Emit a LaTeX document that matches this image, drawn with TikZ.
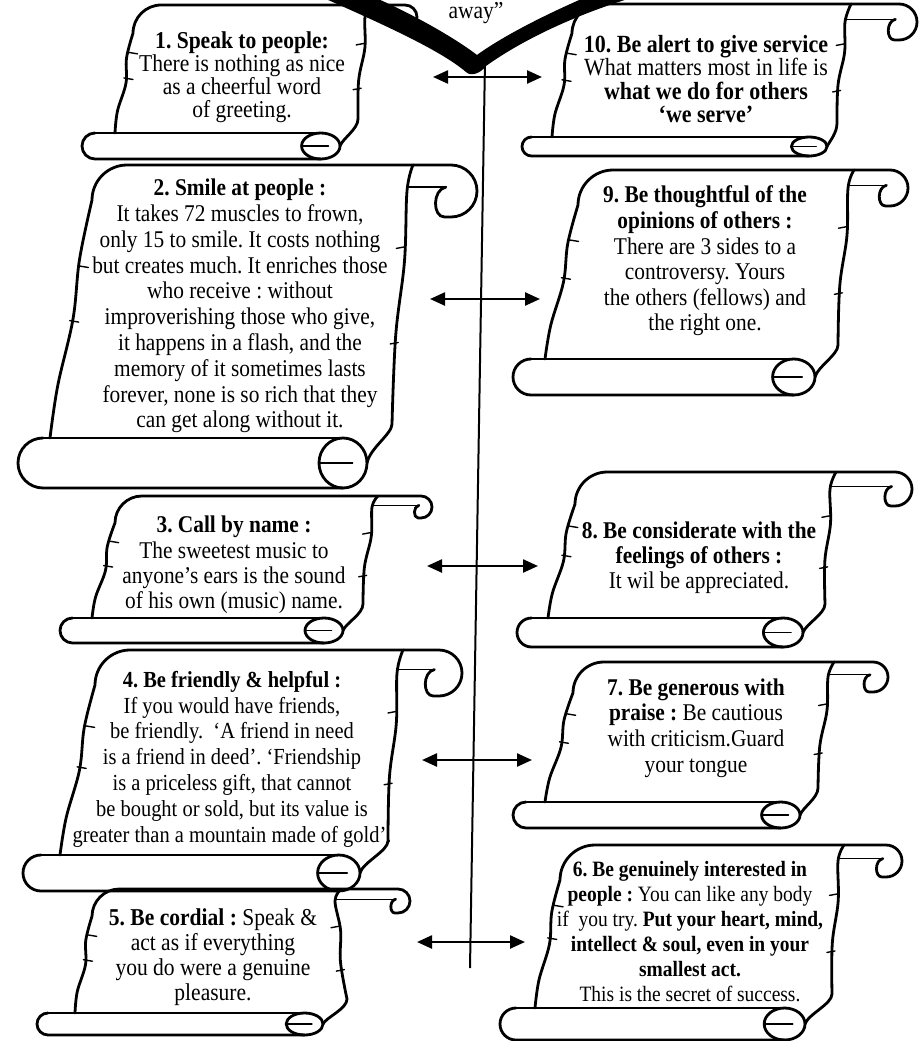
\documentclass[tikz,border=0pt]{standalone}
\usepackage{fontspec}
\setmainfont{Liberation Serif}[FakeStretch=0.89]
\usetikzlibrary{arrows.meta}
\tikzset{
 sc/.style={line width=2.8pt, line join=round, line cap=round},
 scthin/.style={line width=1.4pt, line cap=round},
 txt/.style={align=center, inner sep=0pt},
 arr/.style={line width=2.4pt, {Triangle[length=15pt,width=13pt]}-{Triangle[length=15pt,width=13pt]}},
 vline/.style={line width=2pt},
}
\newcommand\scrollBottom[2]{\def\zzBL{#1}\def\zzER{#2}}
\newcommand\myscroll[9]{%
\pgfmathsetmacro\zzLa{#1}%
\pgfmathsetmacro\zzLb{#2}%
\pgfmathsetmacro\zzRa{#3}%
\pgfmathsetmacro\zzRb{#4}%
\pgfmathsetmacro\zzT{#5}%
\pgfmathsetmacro\zzh{#6}%
\pgfmathsetmacro\zzC{#7}%
\pgfmathsetmacro\zzB{#8}%
\pgfmathsetmacro\zzBb{#9}%
\pgfmathsetmacro\zzr{\zzh/2}%
\pgfmathsetmacro\zzTm{\zzT+\zzr}%
\pgfmathsetmacro\zzTb{\zzT+\zzh}%
\pgfmathsetmacro\zzry{(\zzBb-\zzB)/2}%
\pgfmathsetmacro\zzBm{\zzB+\zzry}%
\pgfmathsetmacro\zzrx{0.4*\zzry+14}%
\pgfmathsetmacro\zzE{\zzER-\zzrx}%
\pgfmathsetmacro\zzk{min(35,0.22*(\zzB-\zzT))}%
\pgfmathsetmacro\zzYa{\zzT+\zzk}%
\pgfmathsetmacro\zzD{\zzB-\zzYa}%
\pgfmathsetmacro\zzlxa{\zzLa+0.25*(\zzLb-\zzLa)-2}%
\pgfmathsetmacro\zzlya{\zzYa+0.25*\zzD}%
\pgfmathsetmacro\zzlxb{\zzLa+0.5*(\zzLb-\zzLa)+2}%
\pgfmathsetmacro\zzlyb{\zzYa+0.5*\zzD}%
\pgfmathsetmacro\zzlxc{\zzLa+0.78*(\zzLb-\zzLa)-1.5}%
\pgfmathsetmacro\zzlyc{\zzYa+0.78*\zzD}%
\pgfmathsetmacro\zzcy{\zzYa-0.55*\zzk}%
\pgfmathsetmacro\zzcx{\zzLa+0.45*\zzk}%
\pgfmathsetmacro\zzce{\zzLa+\zzk}%
\pgfmathsetmacro\zzeA{\zzC-\zzr}%
\pgfmathsetmacro\zzeB{\zzC-0.448*\zzr}%
\pgfmathsetmacro\zzeU{\zzTm-0.552*\zzr}%
\pgfmathsetmacro\zzeD{\zzTm+0.552*\zzr}%
\pgfmathsetmacro\zzpA{\zzC-1.25*\zzr}%
\pgfmathsetmacro\zzpB{\zzC-1.72*\zzr}%
\pgfmathsetmacro\zzpC{\zzC-1.2*\zzr}%
\pgfmathsetmacro\zzpY{\zzTm-0.15*\zzr}%
\pgfmathsetmacro\zzpYc{\zzTm-0.05*\zzr}%
\draw[sc] plot[smooth,tension=0.6] coordinates {(\zzLb,\zzB) (\zzlxc,\zzlyc) (\zzlxb,\zzlyb) (\zzlxa,\zzlya) (\zzLa,\zzYa)}
 .. controls (\zzLa,\zzcy) and (\zzcx,\zzT) .. (\zzce,\zzT) -- (\zzeA,\zzT)
 .. controls (\zzeB,\zzT) and (\zzC,\zzeU) .. (\zzC,\zzTm)
 .. controls (\zzC,\zzeD) and (\zzeB,\zzTb) .. (\zzeA,\zzTb) -- (\zzpA,\zzTb)
 .. controls (\zzpB,\zzTb) and (\zzpB,\zzpYc) .. (\zzpC,\zzpY);
\draw[scthin] (\zzRa,\zzpY) -- (\zzpC,\zzpY);
\pgfmathsetmacro\zzrxa{\zzRa+6}%
\pgfmathsetmacro\zzrye{\zzB-14}%
\pgfmathsetmacro\zzrD{\zzrye-\zzTm}%
\pgfmathsetmacro\zzrxb{\zzRa+0.3*(\zzRb-\zzRa)+2}%
\pgfmathsetmacro\zzryb{\zzTm+0.3*\zzrD}%
\pgfmathsetmacro\zzrxc{\zzRa+0.62*(\zzRb-\zzRa)-2}%
\pgfmathsetmacro\zzryc{\zzTm+0.62*\zzrD}%
\pgfmathsetmacro\zzryf{\zzB-4}%
\pgfmathsetmacro\zzryg{\zzBm-0.6*\zzry}%
\pgfmathsetmacro\zzrxg{\zzER+3}%
\draw[sc] plot[smooth,tension=0.6] coordinates {(\zzrxa,\zzT) (\zzRa,\zzTm) (\zzrxb,\zzryb) (\zzrxc,\zzryc) (\zzRb,\zzrye)}
 .. controls (\zzRb,\zzryf) and (\zzrxg,\zzryg) .. (\zzER,\zzBm);
\pgfmathsetmacro\zzbL{\zzBL+\zzry}%
\pgfmathsetmacro\zzbLc{\zzBL+0.448*\zzry}%
\pgfmathsetmacro\zzbU{\zzBm-0.552*\zzry}%
\pgfmathsetmacro\zzbD{\zzBm+0.552*\zzry}%
\draw[scthin] (\zzE,\zzB) -- (\zzbL,\zzB);
\draw[sc] (\zzbL,\zzB) .. controls (\zzbLc,\zzB) and (\zzBL,\zzbU) .. (\zzBL,\zzBm)
 .. controls (\zzBL,\zzbD) and (\zzbLc,\zzBb) .. (\zzbL,\zzBb) -- (\zzE,\zzBb);
\draw[sc] (\zzE,\zzBm) ellipse [x radius=\zzrx pt, y radius=\zzry pt];
\pgfmathsetmacro\zzil{\zzE-\zzrx}%
\pgfmathsetmacro\zzir{\zzE+0.4*\zzrx}%
\draw[scthin] (\zzil,\zzBm) -- (\zzir,\zzBm);
\pgfmathsetmacro\zztya{\zzT+0.37*(\zzB-\zzT)}%
\pgfmathsetmacro\zztxa{\zzLa+(\zztya-\zzYa)/\zzD*(\zzLb-\zzLa)-1}%
\pgfmathsetmacro\zztyb{\zzT+0.57*(\zzB-\zzT)}%
\pgfmathsetmacro\zztxb{\zzLa+(\zztyb-\zzYa)/\zzD*(\zzLb-\zzLa)-1}%
\pgfmathsetmacro\zztyc{\zzT+0.3*(\zzB-\zzT)}%
\pgfmathsetmacro\zztxc{\zzRa+(\zztyc-\zzTm)/\zzrD*(\zzRb-\zzRa)+1}%
\pgfmathsetmacro\zztyd{\zzT+0.65*(\zzB-\zzT)}%
\pgfmathsetmacro\zztxd{\zzRa+(\zztyd-\zzTm)/\zzrD*(\zzRb-\zzRa)+1}%
\draw[scthin] (\zztxa,\zztya) -- ++(9,1.5);
\draw[scthin] (\zztxb,\zztyb) -- ++(9,1.5);
\draw[scthin] (\zztxc,\zztyc) -- ++(-8,1.5);
\draw[scthin] (\zztxd,\zztyd) -- ++(-8,1.5);
}
\begin{document}
\frenchspacing
\begin{tikzpicture}[x=1pt,y=-1pt]
\fill[white] (0,0) rectangle (921,1041);
\useasboundingbox (0,0) rectangle (921,1041);
\clip (0,0) rectangle (921,1041);
% scrolls
\scrollBottom{82}{340}\myscroll{133}{115}{365}{358}{5}{24}{417}{133}{159}
\scrollBottom{18}{367}\myscroll{92}{50}{407}{392}{165}{52}{477}{438}{488}
\scrollBottom{60}{343}\myscroll{115}{92}{372}{363}{496}{22}{432}{618}{643}
\scrollBottom{23}{360}\myscroll{95}{60}{397}{388}{650}{46}{462}{855}{891}
\scrollBottom{37}{323}\myscroll{92}{75}{335}{347}{889}{24}{410}{1013}{1035}
\scrollBottom{522}{827}\myscroll{572}{552}{845}{837}{4}{36}{917}{137}{156}
\scrollBottom{513}{815}\myscroll{578}{545}{848}{838}{170}{36}{908}{359}{395}
\scrollBottom{517}{803}\myscroll{575}{548}{830}{825}{472}{34}{912}{618}{647}
\scrollBottom{513}{800}\myscroll{573}{545}{828}{818}{662}{30}{888}{802}{828}
\scrollBottom{500}{805}\myscroll{560}{535}{838}{832}{845}{32}{902}{1008}{1040}
% texts
\node[txt, font=\fontsize{24.2}{23}\selectfont] (s1) at (242,77)
 {\textbf{1. Speak to people:}\\ There is nothing as nice\\ as a cheerful word\\ of greeting.};
\node[txt, font=\fontsize{24}{25.8}\selectfont] (s2) at (240,306)
 {\textbf{2. Smile at people :}\\ It takes 72 muscles to frown,\\ only 15 to smile. It costs nothing\\ but creates much. It enriches those\\ who receive : without\\ improverishing those who give,\\ it happens in a flash, and the\\ memory of it sometimes lasts\\ forever, none is so rich that they\\ can get along without it.};
\node[txt, font=\fontsize{24}{25.3}\selectfont] (s3) at (234,565)
 {\textbf{3. Call by name :}\\ The sweetest music to\\ anyone’s ears is the sound\\ of his own (music) name.};
\node[txt, font=\fontsize{23}{25.8}\selectfont] (s4) at (232,759)
 {\textbf{4. Be friendly \& helpful :}\\ If you would have friends,\\ be friendly.\ \ ‘A friend in need\\ is a friend in deed’. ‘Friendship\\ is a priceless gift, that cannot\\ be bought or sold, but its value is\\ greater than a mountain made of gold’.};
\node[txt, font=\fontsize{24.2}{25}\selectfont] (s5) at (213,957)
 {\textbf{5. Be cordial :} Speak \&\\ act as if everything\\ you do were a genuine\\ pleasure.};
\node[txt, font=\fontsize{24.7}{23.3}\selectfont] (s10) at (706,79)
 {\textbf{10. Be alert to give service}\\ What matters most in life is\\ \textbf{what we do for others}\\ \textbf{‘we serve’}};
\node[txt, font=\fontsize{24}{25.6}\selectfont] (s9) at (705,261)
 {\textbf{9. Be thoughtful of the}\\ \textbf{opinions of others :}\\ There are 3 sides to a\\ controversy. Yours\\ the others (fellows) and\\ the right one.};
\node[txt, font=\fontsize{24}{25}\selectfont] (s8) at (699,558)
 {\textbf{8. Be considerate with the}\\ \textbf{feelings of others :}\\ It wil be appreciated.};
\node[txt, font=\fontsize{24}{25.7}\selectfont] (s7) at (696,728)
 {\textbf{7. Be generous with}\\ \textbf{praise :} Be cautious\\ with criticism.Guard\\ your tongue};
\node[txt, font=\fontsize{21.9}{25}\selectfont] (s6) at (690,932)
 {\textbf{6. Be genuinely interested in}\\ \textbf{people :} You can like any body\\ if\ \ you try. \textbf{Put your heart, mind,}\\ \textbf{intellect \& soul, even in your}\\ \textbf{smallest act.}\\ This is the secret of success.};
% central line
\coordinate (vt) at (485,60);
\coordinate (vb) at (470,968);
\draw[vline] (vt) -- (vb);
% arrows
\coordinate (a1l) at (433,77);  \coordinate (a1r) at (542,77);
\coordinate (a2l) at (430,299); \coordinate (a2r) at (540,299);
\coordinate (a3l) at (427,566); \coordinate (a3r) at (538,566);
\coordinate (a4l) at (422,760); \coordinate (a4r) at (532,760);
\coordinate (a5l) at (417,942); \coordinate (a5r) at (525,942);
\draw[arr] (a1l) -- (a1r);
\draw[arr] (a2l) -- (a2r);
\draw[arr] (a3l) -- (a3r);
\draw[arr] (a4l) -- (a4r);
\draw[arr] (a5l) -- (a5r);
% heart bottom
\fill (310,-8) .. controls (385,25) and (440,50) .. (466,72)
 .. controls (471,77) and (481,73) .. (486,66)
 .. controls (525,38) and (585,10) .. (652,-8) -- (598,-8)
 .. controls (545,14) and (500,38) .. (477,55)
 .. controls (455,38) and (410,12) .. (362,-8) -- cycle;
\node[txt, font=\fontsize{24.2}{24}\selectfont] (away) at (476,13) {away”};
\end{tikzpicture}
\end{document}
